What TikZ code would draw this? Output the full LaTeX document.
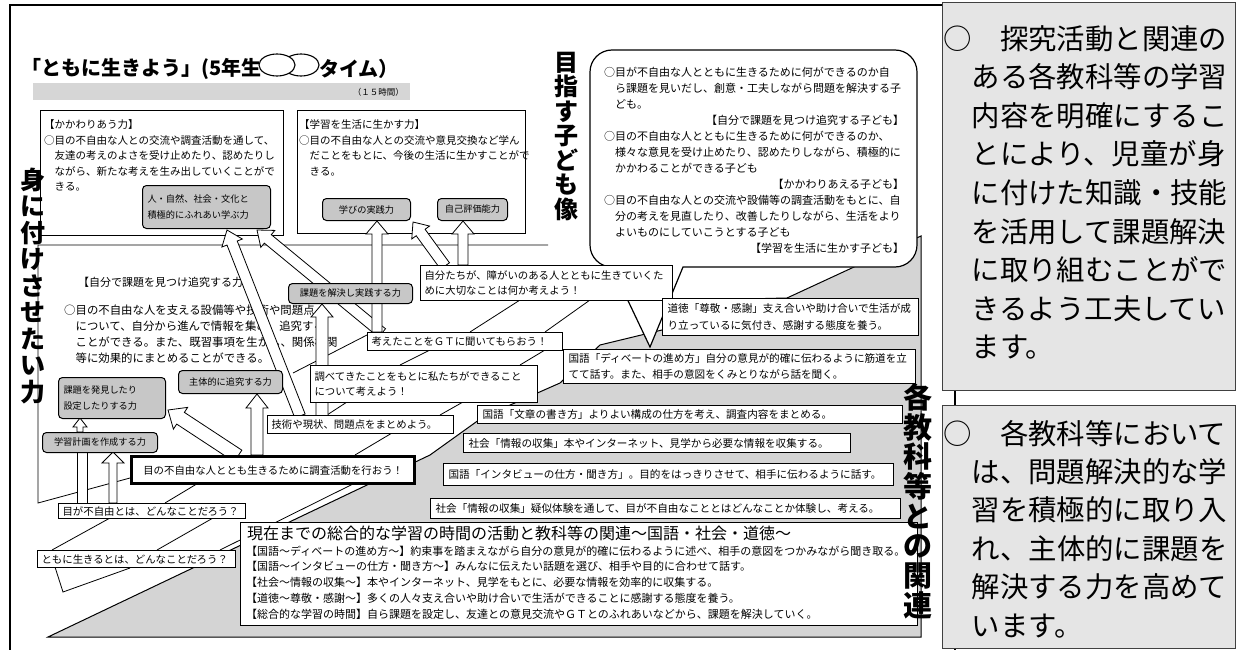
\documentclass[tikz,border=0pt]{standalone}
\usepackage{fontspec}
\setmainfont{Noto Sans CJK JP}
\usetikzlibrary{calc}
\newcommand\fs[2]{\fontsize{#1}{#2}\selectfont}
\newcommand\harrow[5]{%
  \coordinate (ha) at #1;\coordinate (hb) at #2;
  \coordinate (hh) at ($(hb)!#5!(ha)$);
  \draw[harr] ($(ha)!#3!90:(hb)$) -- ($(hh)!#3!-90:(ha)$) -- ($(hh)!#4!-90:(ha)$) -- (hb) -- ($(hh)!#4!90:(ha)$) -- ($(hh)!#3!90:(ha)$) -- ($(ha)!#3!-90:(hb)$) -- cycle;}
\begin{document}
\begin{tikzpicture}[x=1pt,y=-1pt,
  frm/.style={line width=2.4pt},
  gl/.style={line width=0.8pt},
  wbox/.style={draw, fill=white, line width=1pt, anchor=north west, inner sep=0pt},
  sbox/.style={draw, fill=white, line width=1.1pt, anchor=north west, inner xsep=4pt, inner ysep=0pt, align=left, font=\fs{10.4}{15.5}},
  tbox/.style={draw, fill=white, line width=1.1pt, anchor=north west, inner xsep=5pt, inner ysep=0pt, align=left, font=\fs{10.6}{16.5}},
  kbox/.style={draw, fill=black!22, rounded corners=4pt, line width=1pt, anchor=north west, inner xsep=5pt, inner ysep=0pt, align=center, font=\fs{9.2}{16}},
  txt/.style={inner sep=0pt, align=left},
  harr/.style={draw, fill=white, line width=0.8pt},
  rbox/.style={draw=black!75, fill=black!10, line width=1pt},
  vt/.style={inner sep=0pt, align=center}
]
\useasboundingbox (0,0) rectangle (1236,650);
\fill[white] (0,0) rectangle (1236,650);

% outer frame
\draw[frm] (10,650) -- (10,5) -- (955,5) -- (955,650);

% title
\node[font=\bfseries\fs{20}{20}, anchor=east, inner sep=0pt] (T1) at (262,69) {「ともに生きよう」(5年生};
\draw[line width=1.1pt, fill=white] (301,65) ellipse [x radius=18pt, y radius=11pt];
\draw[line width=1.1pt, fill=white] (277,65) ellipse [x radius=18pt, y radius=11pt];
\node[font=\bfseries\fs{20}{20}, anchor=west, inner sep=0pt] (T2) at (319,69) {タイム）};
\fill[black!16] (33,83) rectangle (410,100);
\node[font=\fs{8.5}{10}, anchor=east, inner sep=0pt] (hrs) at (404,92) {（１５時間）};

% gray ground
\draw[fill=black!17, line width=1pt] (48,637) -- (430,455) -- (483,417) -- (560,383) -- (600,345) -- (662,330) -- (700,300) -- (787,298) -- (921,236) -- (921,637) -- cycle;

% upper panels
\node[wbox, minimum width=243pt, minimum height=125pt] (L1) at (40,110) {};
\node[txt, anchor=north west, font=\fs{10.5}{15.6}] (L1t) at (44,119.5) {【かかわりあう力】\\○目の不自由な人との交流や調査活動を通して、\\　友達の考えのよさを受け止めたり、認めたりし\\　ながら、新たな考えを生み出していくことがで\\　きる。};
\node[wbox, minimum width=228pt, minimum height=123pt] (L2) at (297,110) {};
\node[txt, anchor=north west, font=\fs{10.5}{15.6}] (L2t) at (299,119.5) {【学習を生活に生かす力】\\○目の不自由な人との交流や意見交換など学ん\\　だことをもとに、今後の生活に生かすことがで\\　きる。};

% lower panel
\draw[gl] (548,245) -- (38,245) -- (38,503) -- (130,478);
\node[txt, anchor=west, font=\fs{11}{14}] (P3h) at (78,282) {【自分で課題を見つけ追究する力】};
\node[txt, anchor=north west, font=\fs{11.4}{16}] (P3t) at (64,304.5) {○目の不自由な人を支える設備等や技術や問題点\\　について、自分から進んで情報を集め、追究する\\　ことができる。また、既習事項を生かし、関係機関\\　等に効果的にまとめることができる。};

% staircase lines
\draw[gl] (52,550) -- (110,518);
\draw[gl] (157,550) -- (213,518);
\draw[gl] (220,550) -- (357,482);
\draw[gl] (165,503) -- (200,482);
\draw[gl] (355,455) -- (392,433);
\draw[gl] (327,415) -- (347,402);
\draw[gl] (440,415) -- (463,402);
\draw[gl] (400,365) -- (430,350);
\draw[gl] (520,365) -- (545,350);
\draw[gl] (293,373) -- (367,335);
\draw[gl] (470,332) -- (520,300);
\draw[gl] (545,332) -- (590,300);
\draw[gl] (55,567) -- (63,592) -- (130,568);

% hollow arrows
\draw[harr] (77,452) rectangle (87,503);
\harrow{(113,503)}{(113,452)}{4pt}{11pt}{11pt}
\harrow{(80,432)}{(80,418)}{3pt}{7pt}{9pt}
\harrow{(257,455)}{(257,394)}{6pt}{11pt}{14pt}
\harrow{(238,456)}{(168,410)}{7pt}{13pt}{15pt}
\harrow{(300,416)}{(227,230)}{5.5pt}{11pt}{14pt}
\harrow{(382,333)}{(257,230)}{5.5pt}{11pt}{14pt}
\harrow{(377,332)}{(377,221)}{5pt}{11pt}{13pt}
\harrow{(463,265)}{(463,221)}{5pt}{11pt}{13pt}
\harrow{(445,266)}{(413,222)}{5.5pt}{11pt}{13pt}
\harrow{(322,416)}{(322,304)}{6pt}{11pt}{13pt}

% speech bubble
\draw[line width=1.2pt, fill=white] (650,347) -- (683,267) {[rounded corners=22pt] -- (917,267) -- (917,50) -- (590,50) -- (590,267) -- (612,267)} -- cycle;
\node[txt, anchor=north west, text width=300pt, font=\fs{11}{16}] (BT) at (604,66.5) {○目が不自由な人とともに生きるために何ができるのか自\\　ら課題を見いだし、創意・工夫しながら問題を解決する子\\　ども。\\\hspace*{\fill}【自分で課題を見つけ追究する子ども】\\○目の不自由な人とともに生きるために何ができるのか、\\　様々な意見を受け止めたり、認めたりしながら、積極的に\\　かかわることができる子ども\\\hspace*{\fill}【かかわりあえる子ども】\\○目の不自由な人との交流や設備等の調査活動をもとに、自\\　分の考えを見直したり、改善したりしながら、生活をより\\　よいものにしていこうとする子ども\\\hspace*{\fill}【学習を生活に生かす子ども】};

% step boxes
\node[sbox, minimum width=198pt, minimum height=17pt, text width=190pt] (S1) at (37,550) {ともに生きるとは、どんなことだろう？};
\node[sbox, minimum width=187pt, minimum height=15pt, text width=179pt] (S2) at (58,503) {目が不自由とは、どんなことだろう？};
\node[sbox, line width=3.4pt, minimum width=283pt, minimum height=27pt, text width=275pt, align=center] (S3) at (130,455) {目の不自由な人ととも生きるために調査活動を行おう！};
\node[sbox, minimum width=186pt, minimum height=18pt, text width=178pt] (S4) at (267,415) {技術や現状、問題点をまとめよう。};
\node[sbox, minimum width=227pt, minimum height=37pt, text width=219pt] (S5) at (310,365) {調べてきたことをもとに私たちができること\\について考えよう！};
\node[sbox, minimum width=195pt, minimum height=18pt, text width=187pt] (S6) at (367,332) {考えたことをＧＴに聞いてもらおう！};
\node[sbox, minimum width=252pt, minimum height=35pt, text width=244pt] (S7) at (420,265) {自分たちが、障がいのある人とともに生きていくた\\めに大切なことは何か考えよう！};

% skill boxes
\node[kbox, minimum width=124pt, minimum height=20pt] (K1) at (288,283) {課題を解決し実践する力};
\node[kbox, minimum width=104pt, minimum height=23pt] (K2) at (178,370) {主体的に追究する力};
\node[kbox, minimum width=107pt, minimum height=41pt, text width=97pt, align=left] (K3) at (58,377) {課題を発見したり\\設定したりする力};
\node[kbox, minimum width=115pt, minimum height=20pt] (K4) at (42,432) {学習計画を作成する力};
\node[kbox, minimum width=128pt, minimum height=43pt, text width=118pt, align=left] (K5) at (142,185) {人・自然、社会・文化と\\積極的にふれあい学ぶ力};
\node[kbox, minimum width=88pt, minimum height=22pt] (K6) at (322,198) {学びの実践力};
\node[kbox, minimum width=70pt, minimum height=22pt] (K7) at (437,198) {自己評価能力};

% subject boxes
\node[tbox, minimum width=256pt, minimum height=37pt, text width=246pt] (SA) at (662,298) {道徳「尊敬・感謝」支え合いや助け合いで生活が成\\り立っているに気付き、感謝する態度を養う。};
\node[tbox, minimum width=352pt, minimum height=34pt, text width=342pt] (SB) at (563,349) {国語「ディベートの進め方」自分の意見が的確に伝わるように筋道を立\\てて話す。また、相手の意図をくみとりながら話を聞く。};
\node[tbox, minimum width=425pt, minimum height=18pt, text width=415pt] (SC) at (477,405) {国語「文章の書き方」よりよい構成の仕方を考え、調査内容をまとめる。};
\node[tbox, minimum width=387pt, minimum height=19pt, text width=377pt] (SD) at (463,433) {社会「情報の収集」本やインターネット、見学から必要な情報を収集する。};
\node[tbox, minimum width=450pt, minimum height=22pt, text width=440pt] (SE) at (443,463) {国語「インタビューの仕方・聞き方」。目的をはっきりさせて、相手に伝わるように話す。};
\node[tbox, minimum width=470pt, minimum height=20pt, text width=460pt] (SF) at (430,498) {社会「情報の収集」疑似体験を通して、目が不自由なこととはどんなことか体験し、考える。};

% summary box
\node[wbox, line width=1.4pt, minimum width=677pt, minimum height=103pt] (G) at (240,522) {};
\node[txt, anchor=west, font=\fs{16}{16}] (Gh) at (247,533) {現在までの総合的な学習の時間の活動と教科等の関連～国語・社会・道徳～};
\node[txt, anchor=north west, font=\fs{11}{15.9}] (Gt) at (246,545.5) {【国語～ディベートの進め方～】約束事を踏まえながら自分の意見が的確に伝わるように述べ、相手の意図をつかみながら聞き取る。\\【国語～インタビューの仕方・聞き方～】みんなに伝えたい話題を選び、相手や目的に合わせて話す。\\【社会～情報の収集～】本やインターネット、見学をもとに、必要な情報を効率的に収集する。\\【道徳～尊敬・感謝～】多くの人々支え合いや助け合いで生活ができることに感謝する態度を養う。\\【総合的な学習の時間】自ら課題を設定し、友達との意見交流やＧＴとのふれあいなどから、課題を解決していく。};

% vertical headings
\node[vt, font=\bfseries\fs{25}{26.5}] (V1) at (33,286) {身\\に\\付\\け\\さ\\せ\\た\\い\\力};
\node[vt, font=\bfseries\fs{24}{24.5}] (V2) at (566,136) {目\\指\\す\\子\\ど\\も\\像};
\node[vt, font=\bfseries\fs{29}{29.7}] (V3) at (918,501) {各\\教\\科\\等\\と\\の\\関\\連};

% right notes
\draw[rbox] (942,3) rectangle (1235,390);
\node[txt, anchor=west, font=\fs{28.4}{38.6}] (R1) at (943,192.5) {○　探究活動と関連の\\　ある各教科等の学習\\　内容を明確にするこ\\　とにより、児童が身\\　に付けた知識・技能\\　を活用して課題解決\\　に取り組むことがで\\　きるよう工夫してい\\　ます。};
\draw[rbox] (942,405) rectangle (1235,648);
\node[txt, anchor=west, font=\fs{28.4}{38.4}] (R2) at (943,529) {○　各教科等において\\　は、問題解決的な学\\　習を積極的に取り入\\　れ、主体的に課題を\\　解決する力を高めて\\　います。};
\end{tikzpicture}
\end{document}
